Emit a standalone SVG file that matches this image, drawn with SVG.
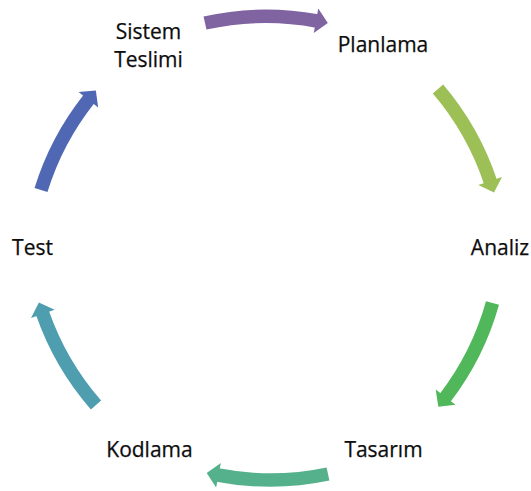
<svg xmlns="http://www.w3.org/2000/svg" width="531" height="491" viewBox="0 0 531 491">
<style>
.lbl{font-family:"Open Sans","Liberation Sans",sans-serif;font-size:21px;fill:#0d0d0d;stroke:#0d0d0d;stroke-width:0.25;text-anchor:middle}
.arr{fill:none;stroke-width:13.5;stroke-linecap:butt}
</style>
<defs>
<marker id="h1" markerUnits="userSpaceOnUse" orient="auto" refX="0" refY="0" markerWidth="30" markerHeight="30" overflow="visible"><path d="M-1,-12.5 L11,0 L-1,12.5 Z" fill="#8064A2"/></marker>
<marker id="h2" markerUnits="userSpaceOnUse" orient="auto" refX="0" refY="0" markerWidth="30" markerHeight="30" overflow="visible"><path d="M-1,-12.5 L11,0 L-1,12.5 Z" fill="#9CC055"/></marker>
<marker id="h3" markerUnits="userSpaceOnUse" orient="auto" refX="0" refY="0" markerWidth="30" markerHeight="30" overflow="visible"><path d="M-1,-12.5 L11,0 L-1,12.5 Z" fill="#50B85A"/></marker>
<marker id="h4" markerUnits="userSpaceOnUse" orient="auto" refX="0" refY="0" markerWidth="30" markerHeight="30" overflow="visible"><path d="M-1,-12.5 L11,0 L-1,12.5 Z" fill="#55B08C"/></marker>
<marker id="h5" markerUnits="userSpaceOnUse" orient="auto" refX="0" refY="0" markerWidth="30" markerHeight="30" overflow="visible"><path d="M-1,-12.5 L11,0 L-1,12.5 Z" fill="#4E9EAF"/></marker>
<marker id="h6" markerUnits="userSpaceOnUse" orient="auto" refX="0" refY="0" markerWidth="30" markerHeight="30" overflow="visible"><path d="M-1,-12.5 L11,0 L-1,12.5 Z" fill="#5068B4"/></marker>
</defs>
<rect width="531" height="491" fill="#ffffff"/>
<g id="connectors">
<path class="arr" stroke="#8064A2" marker-end="url(#h1)" d="M205,23 A280,280 0 0 1 317,21"/>
<path class="arr" stroke="#9CC055" marker-end="url(#h2)" d="M438,89 A280,280 0 0 1 490.5,182"/>
<path class="arr" stroke="#50B85A" marker-end="url(#h3)" d="M492.5,303 A280,280 0 0 1 445,398"/>
<path class="arr" stroke="#55B08C" marker-end="url(#h4)" d="M328,474 A280,280 0 0 1 217.5,475"/>
<path class="arr" stroke="#4E9EAF" marker-end="url(#h5)" d="M96,405 A280,280 0 0 1 42.5,313"/>
<path class="arr" stroke="#5068B4" marker-end="url(#h6)" d="M41,190 A280,280 0 0 1 89,99"/>
</g>
<g id="sistem-teslimi"><text class="lbl" x="148.5" y="39">Sistem</text><text class="lbl" x="148.5" y="67">Teslimi</text></g>
<g id="planlama"><text class="lbl" x="383" y="52">Planlama</text></g>
<g id="analiz"><text class="lbl" x="500" y="255">Analiz</text></g>
<g id="tasarim"><text class="lbl" x="383.5" y="457">Tasarım</text></g>
<g id="kodlama"><text class="lbl" x="149.5" y="457">Kodlama</text></g>
<g id="test"><text class="lbl" x="32.5" y="255">Test</text></g>
</svg>
